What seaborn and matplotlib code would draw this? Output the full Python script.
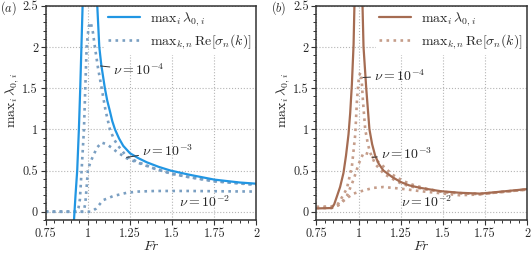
import numpy as np
import pandas as pd
import matplotlib
matplotlib.use("Agg")
import matplotlib.pyplot as plt
import seaborn as sns
from matplotlib.ticker import MultipleLocator

# ---- data ----
# panel (a): max_i lambda_0,i (two branches around the singularity near Fr = 1)
a_lam_left_fr = [0.90, 0.918, 0.927, 0.937, 0.947, 0.955, 0.962, 0.969, 0.975]
a_lam_left_y = [-0.8, -0.1, 0.2, 0.5, 1.0, 1.5, 2.0, 2.5, 3.2]
a_lam_right_fr = [1.045, 1.056, 1.068, 1.08, 1.101, 1.115, 1.131, 1.145, 1.161, 1.185,
                  1.21, 1.25, 1.30, 1.35, 1.42, 1.49, 1.60, 1.75, 1.90, 2.00]
a_lam_right_y = [3.2, 2.5, 2.0, 1.78, 1.5, 1.35, 1.22, 1.1, 1.0, 0.89,
                 0.8, 0.71, 0.65, 0.6, 0.545, 0.5, 0.45, 0.39, 0.355, 0.34]

# panel (a): max Re[sigma] for nu = 1e-4, 1e-3, 1e-2
a_nu4_fr = [0.75, 0.935, 0.945, 0.953, 0.963, 0.97, 0.977, 0.985, 0.993, 1.005, 1.017,
            1.03, 1.042, 1.06, 1.082, 1.105, 1.131, 1.155, 1.18, 1.23, 1.30, 1.40,
            1.50, 1.60, 1.75, 2.00]
a_nu4_y = [0.0, 0.0, 0.05, 0.15, 0.5, 0.75, 1.0, 1.5, 2.0, 2.25, 2.3,
           2.18, 2.0, 1.75, 1.5, 1.23, 1.0, 0.88, 0.8, 0.67, 0.6, 0.52,
           0.46, 0.42, 0.37, 0.33]
a_nu3_fr = [0.75, 0.975, 0.985, 0.993, 1.00, 1.015, 1.032, 1.055, 1.082, 1.11, 1.14,
            1.17, 1.20, 1.23, 1.29, 1.37, 1.50, 1.60, 1.75, 2.00]
a_nu3_y = [0.0, 0.0, 0.1, 0.3, 0.5, 0.6, 0.68, 0.78, 0.84, 0.82, 0.78,
           0.73, 0.69, 0.65, 0.6, 0.54, 0.46, 0.42, 0.37, 0.325]
a_nu2_fr = [0.75, 1.02, 1.05, 1.09, 1.15, 1.23, 1.30, 1.40, 1.60, 1.80, 2.00]
a_nu2_y = [0.0, 0.0, 0.04, 0.14, 0.19, 0.23, 0.245, 0.252, 0.252, 0.248, 0.245]

# panel (b): max_i lambda_0,i
b_lam_left_fr = [0.75, 0.841, 0.855, 0.871, 0.89, 0.91, 0.925, 0.94, 0.95, 0.96,
                 0.97, 0.975, 0.98]
b_lam_left_y = [0.04, 0.045, 0.09, 0.185, 0.3, 0.47, 0.68, 0.94, 1.2, 1.55,
                2.03, 2.5, 3.0]
b_lam_right_fr = [1.018, 1.023, 1.029, 1.045, 1.064, 1.08, 1.098, 1.12, 1.147, 1.20,
                  1.25, 1.30, 1.365, 1.484, 1.60, 1.72, 1.80, 1.90, 2.00]
b_lam_right_y = [3.0, 2.5, 2.0, 1.5, 1.0, 0.82, 0.68, 0.58, 0.5, 0.42,
                 0.36, 0.32, 0.29, 0.25, 0.23, 0.22, 0.235, 0.255, 0.275]

# panel (b): max Re[sigma]
b_nu4_fr = [0.75, 0.84, 0.88, 0.93, 0.96, 0.98, 0.99, 1.00, 1.009, 1.018, 1.025,
            1.039, 1.055, 1.068, 1.098, 1.15, 1.20, 1.25, 1.30, 1.40, 1.50, 1.60,
            1.72, 1.80, 1.90, 2.00]
b_nu4_y = [0.06, 0.065, 0.1, 0.28, 0.55, 0.94, 1.35, 1.6, 1.69, 1.6, 1.36,
           1.0, 0.82, 0.72, 0.58, 0.46, 0.4, 0.345, 0.31, 0.27, 0.24, 0.225,
           0.215, 0.23, 0.25, 0.27]
b_nu3_fr = [0.75, 0.85, 0.89, 0.93, 0.97, 1.00, 1.03, 1.06, 1.09, 1.147, 1.20,
            1.25, 1.30, 1.40, 1.50, 1.60, 1.72, 1.80, 1.90, 2.00]
b_nu3_y = [0.05, 0.05, 0.09, 0.19, 0.39, 0.58, 0.72, 0.7, 0.65, 0.55, 0.45,
           0.39, 0.34, 0.28, 0.24, 0.225, 0.215, 0.23, 0.25, 0.27]
b_nu2_fr = [0.75, 0.84, 0.88, 0.93, 0.97, 1.00, 1.05, 1.09, 1.147, 1.20, 1.25,
            1.365, 1.484, 1.60, 1.72, 1.80, 1.90, 2.00]
b_nu2_y = [0.045, 0.045, 0.08, 0.165, 0.22, 0.24, 0.27, 0.29, 0.30, 0.29, 0.28,
           0.25, 0.225, 0.2, 0.21, 0.23, 0.25, 0.27]

x_ticks = [0.75, 1.0, 1.25, 1.5, 1.75, 2.0]
x_ticklabels = ["0.75", "1", "1.25", "1.5", "1.75", "2"]
y_ticks = [0, 0.5, 1, 1.5, 2, 2.5]
y_ticklabels = ["0", "0.5", "1", "1.5", "2", "2.5"]
nu_labels = [r"$\nu = 10^{-4}$", r"$\nu = 10^{-3}$", r"$\nu = 10^{-2}$"]

# ---- style ----
sns.set_style("ticks")
plt.rcParams["font.family"] = ["cmr10", "DejaVu Serif"]
plt.rcParams["mathtext.fontset"] = "cm"
plt.rcParams["axes.unicode_minus"] = False
plt.rcParams["axes.formatter.use_mathtext"] = True
FS = 8.8      # tick labels
FT = 10       # legend / annotations
plt.rcParams["font.size"] = FS

fig = plt.figure(figsize=(5.31, 2.54), dpi=100)
ax_a = fig.add_axes([0.086, 0.134, 0.397, 0.843])
ax_b = fig.add_axes([0.596, 0.134, 0.397, 0.843])


def dline(ax, fr, y, color, ls="-", lw=1.6):
    sns.lineplot(x=fr, y=y, ax=ax, color=color, linestyle=ls, lw=lw,
                 estimator=None, sort=False, legend=False)


panels = [
    (ax_a, "#2196e3", "#7a9fc2",
     (a_lam_left_fr, a_lam_left_y), (a_lam_right_fr, a_lam_right_y),
     [(a_nu4_fr, a_nu4_y), (a_nu3_fr, a_nu3_y), (a_nu2_fr, a_nu2_y)], "a"),
    (ax_b, "#a56c52", "#c59d8a",
     (b_lam_left_fr, b_lam_left_y), (b_lam_right_fr, b_lam_right_y),
     [(b_nu4_fr, b_nu4_y), (b_nu3_fr, b_nu3_y), (b_nu2_fr, b_nu2_y)], "b"),
]

for ax, c_solid, c_dot, left, right, nus, tag in panels:
    for fr, y in nus:
        dline(ax, fr, y, c_dot, ls=":", lw=1.9)
    dline(ax, *left, c_solid)
    dline(ax, *right, c_solid)

    ax.set_xlim(0.75, 2.0)
    ax.set_ylim(-0.1, 2.5)
    ax.set_xticks(x_ticks)
    ax.set_xticklabels(x_ticklabels)
    ax.set_yticks(y_ticks)
    ax.set_yticklabels(y_ticklabels)
    ax.xaxis.set_minor_locator(MultipleLocator(0.05))
    ax.yaxis.set_minor_locator(MultipleLocator(0.1))
    ax.grid(True, which="major", linestyle=":", color="#b5b5b5", lw=0.8)
    ax.tick_params(which="major", direction="out", length=3.5, width=0.8,
                   color="#333333", labelsize=FS, pad=2)
    ax.tick_params(which="minor", direction="out", length=2.2, width=0.7,
                   color="#333333")
    for sp in ax.spines.values():
        sp.set_color("#333333")
        sp.set_linewidth(1.1)
    ax.set_xlabel(r"$Fr$", fontsize=FT, labelpad=0)
    ax.set_ylabel(r"$\mathrm{max}_i\,\lambda_{0,i}$", fontsize=FT)
    ax.yaxis.set_label_coords(-0.115, 0.56)
    ax.text(-0.218, 0.99, r"$(" + tag + ")$", transform=ax.transAxes,
            ha="left", va="center", fontsize=FS)

    # legend proxies
    h1, = ax.plot([], [], color=c_solid, lw=1.6)
    h2, = ax.plot([], [], color=c_dot, lw=1.9, ls=":")
    ax.legend([h1, h2], [r"$\mathrm{max}_i\,\lambda_{0,i}$",
                         r"$\mathrm{max}_{k,n}\,\mathrm{Re}[\sigma_n(k)]$"],
              loc="upper right", fontsize=FT, frameon=True, facecolor="white",
              edgecolor="none", framealpha=1, handlelength=2.3,
              borderaxespad=0.1, borderpad=0.25, labelspacing=0.3,
              handletextpad=0.7)

arrow = dict(arrowstyle="-", lw=0.7, color="#333333", shrinkA=0, shrinkB=0)

# annotations, panel (a)
ax_a.annotate(nu_labels[0], xy=(1.075, 1.77), xytext=(1.15, 1.72),
              va="center", fontsize=FT, arrowprops=arrow)
ax_a.annotate(nu_labels[1], xy=(1.23, 0.66), xytext=(1.32, 0.74),
              va="center", fontsize=FT, arrowprops=arrow)
ax_a.text(1.54, 0.12, nu_labels[2], va="center", fontsize=FT)

# annotations, panel (b)
ax_b.annotate(nu_labels[0], xy=(1.025, 1.63), xytext=(1.09, 1.65),
              va="center", fontsize=FT, arrowprops=arrow)
ax_b.annotate(nu_labels[1], xy=(1.082, 0.66), xytext=(1.13, 0.7),
              va="center", fontsize=FT, arrowprops=arrow)
ax_b.text(1.25, 0.12, nu_labels[2], va="center", fontsize=FT)

fig.savefig("out.png", dpi=100)
